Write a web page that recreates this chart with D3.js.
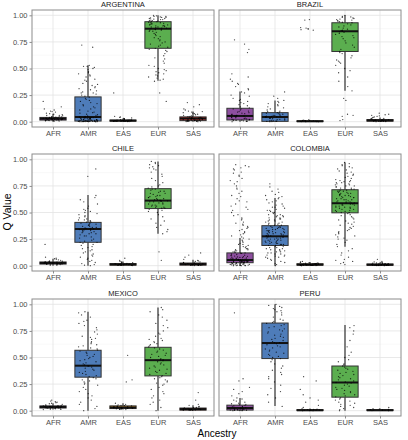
<!DOCTYPE html>
<html><head><meta charset="utf-8">
<script src="https://cdn.jsdelivr.net/npm/d3@7"></script>
<style>body{margin:0;background:#fff}svg{display:block;font-family:"Liberation Sans",Arial,sans-serif}</style>
</head><body><svg id="c" width="408" height="440"></svg>
<script>
const ancestries = ["AFR","AMR","EAS","EUR","SAS"];
const countries = ["ARGENTINA","BRAZIL","CHILE","COLOMBIA","MEXICO","PERU"];
const yTicks = [0, 0.25, 0.5, 0.75, 1.0];
const yTickLabels = ["0.00","0.25","0.50","0.75","1.00"];
const colors = ["#8E4FA0","#4E7CB9","#E69F2F","#5BAE4F","#C83A33"];

// box stats per ancestry: [lower whisker, q1, median, q3, upper whisker]
const argentinaBox = [[0,0.015,0.028,0.04,0.075],[0,0.006,0.044,0.233,0.53],[0,0.005,0.01,0.015,0.03],[0.385,0.69,0.874,0.94,1.0],[0,0.01,0.03,0.045,0.095]];
const brazilBox = [[0,0.016,0.054,0.126,0.284],[0,0.003,0.044,0.085,0.2],[0,0.001,0.004,0.008,0.015],[0.29,0.66,0.85,0.93,1.0],[0,0.005,0.012,0.02,0.04]];
const chileBox = [[0,0.015,0.025,0.035,0.065],[0,0.22,0.345,0.407,0.665],[0,0.005,0.012,0.02,0.04],[0.3,0.537,0.612,0.724,0.98],[0,0.005,0.015,0.025,0.055]];
const colombiaBox = [[0,0.028,0.053,0.12,0.26],[0,0.19,0.276,0.376,0.637],[0,0.005,0.01,0.018,0.035],[0.177,0.497,0.587,0.714,0.97],[0,0.004,0.009,0.016,0.03]];
const mexicoBox = [[0.01,0.025,0.035,0.045,0.07],[0,0.315,0.423,0.568,0.93],[0.01,0.02,0.03,0.045,0.07],[0,0.327,0.475,0.596,0.97],[0,0.005,0.015,0.025,0.05]];
const peruBox = [[0,0.006,0.025,0.052,0.12],[0.043,0.49,0.636,0.824,1.0],[0,0.001,0.004,0.01,0.02],[0,0.127,0.265,0.42,0.805],[0,0.001,0.004,0.01,0.02]];

// individual Q values per ancestry
const argentinaPoints = [
 [0.19,0.14,0.12,0.11,0.1,0.095,0.09,0.08,0.075,0.07,0.065,0.06,0.058,0.055,0.05,0.048,0.046,0.044,0.042,0.04,0.039,0.037,0.036,0.035,0.034,0.033,0.032,0.031,0.03,0.03,0.029,0.028,0.028,0.027,0.026,0.025,0.024,0.023,0.022,0.021,0.02,0.019,0.018,0.017,0.016,0.015,0.014,0.013,0.012,0.011,0.01,0.008,0.006,0.004],
 [0.72,0.7,0.53,0.52,0.52,0.51,0.5,0.49,0.47,0.46,0.45,0.44,0.43,0.42,0.4,0.39,0.38,0.36,0.35,0.34,0.33,0.32,0.31,0.3,0.29,0.28,0.27,0.27,0.26,0.25,0.24,0.23,0.22,0.21,0.2,0.19,0.18,0.17,0.16,0.15,0.14,0.13,0.12,0.11,0.1,0.09,0.085,0.08,0.07,0.065,0.06,0.055,0.05,0.047,0.044,0.04,0.037,0.033,0.03,0.027,0.024,0.02,0.018,0.016,0.014,0.012,0.01,0.009,0.008,0.007,0.006,0.005,0.004,0.004,0.003,0.003,0.002,0.002,0.001,0.001,0,0,0.043,0.041,0.039,0.036,0.034,0.031,0.029,0.026,0.023,0.021,0.019,0.017,0.015,0.013,0.011,0.008,0.006,0.005,0.003,0.002,0.001,0,0,0],
 [0.27,0.05,0.045,0.04,0.035,0.03,0.028,0.025,0.022,0.02,0.019,0.018,0.016,0.015,0.014,0.013,0.012,0.011,0.01,0.01,0.009,0.009,0.008,0.008,0.007,0.007,0.006,0.006,0.005,0.005,0.004,0.004,0.003,0.003,0.002,0.002,0.001,0.001],
 [1.0,0.995,0.99,0.99,0.985,0.98,0.98,0.975,0.97,0.97,0.965,0.96,0.96,0.955,0.95,0.95,0.945,0.94,0.94,0.935,0.93,0.93,0.925,0.92,0.92,0.915,0.91,0.91,0.905,0.9,0.9,0.895,0.89,0.89,0.885,0.88,0.88,0.875,0.87,0.87,0.865,0.86,0.86,0.85,0.85,0.84,0.83,0.82,0.81,0.8,0.79,0.78,0.77,0.76,0.75,0.74,0.73,0.72,0.71,0.7,0.69,0.68,0.67,0.66,0.64,0.62,0.6,0.59,0.57,0.55,0.53,0.52,0.5,0.49,0.48,0.47,0.46,0.45,0.44,0.43,0.42,0.41,0.4,0.39,0.38,0.27,0.19],
 [0.18,0.16,0.14,0.12,0.11,0.1,0.095,0.09,0.085,0.08,0.075,0.07,0.065,0.06,0.055,0.05,0.048,0.045,0.043,0.04,0.038,0.036,0.034,0.032,0.03,0.03,0.028,0.027,0.026,0.025,0.024,0.022,0.02,0.019,0.018,0.016,0.015,0.014,0.013,0.012,0.011,0.01,0.009,0.008,0.007,0.006,0.005,0.004,0.003,0.002,0.001,0]
];
const brazilPoints = [
 [0.77,0.73,0.68,0.65,0.45,0.42,0.4,0.38,0.36,0.35,0.33,0.31,0.3,0.28,0.27,0.25,0.24,0.22,0.21,0.2,0.19,0.18,0.17,0.16,0.15,0.14,0.13,0.12,0.12,0.11,0.1,0.095,0.09,0.085,0.08,0.075,0.07,0.065,0.06,0.058,0.055,0.052,0.05,0.047,0.044,0.04,0.037,0.034,0.03,0.027,0.024,0.021,0.018,0.016,0.014,0.012,0.01,0.008,0.006,0.004,0.002,0],
 [0.28,0.24,0.22,0.2,0.19,0.18,0.17,0.16,0.15,0.14,0.13,0.12,0.11,0.1,0.095,0.09,0.085,0.08,0.075,0.07,0.065,0.06,0.058,0.055,0.052,0.05,0.047,0.045,0.043,0.04,0.037,0.034,0.031,0.028,0.025,0.022,0.019,0.016,0.013,0.01,0.008,0.006,0.004,0.002,0.001,0],
 [0.96,0.955,0.885,0.88,0.875,0.87,0.865,0.86,0.02,0.015,0.012,0.01,0.009,0.008,0.007,0.006,0.005,0.004,0.003,0.003,0.002,0.002,0.001,0.001,0,0],
 [1.0,0.99,0.985,0.98,0.975,0.97,0.965,0.96,0.955,0.95,0.945,0.94,0.935,0.93,0.92,0.91,0.9,0.89,0.88,0.87,0.86,0.855,0.85,0.845,0.84,0.83,0.82,0.81,0.8,0.79,0.78,0.76,0.74,0.72,0.7,0.68,0.66,0.65,0.64,0.62,0.6,0.58,0.57,0.56,0.55,0.53,0.5,0.48,0.46,0.42,0.38,0.33,0.29,0.22,0.2,0.07,0.06,0.05,0.02,0.01],
 [0.08,0.07,0.065,0.06,0.055,0.05,0.045,0.04,0.035,0.03,0.028,0.025,0.022,0.02,0.018,0.016,0.015,0.014,0.013,0.012,0.011,0.01,0.009,0.008,0.007,0.006,0.005,0.004,0.003,0.002,0.001,0]
];
const chilePoints = [
 [0.2,0.08,0.07,0.065,0.06,0.055,0.05,0.045,0.042,0.04,0.038,0.036,0.034,0.032,0.03,0.029,0.028,0.027,0.026,0.025,0.024,0.023,0.022,0.021,0.02,0.019,0.018,0.017,0.016,0.015,0.014,0.012,0.01,0.008,0.006,0.004],
 [0.91,0.84,0.66,0.64,0.62,0.6,0.58,0.56,0.54,0.53,0.52,0.51,0.5,0.49,0.48,0.47,0.46,0.45,0.44,0.43,0.43,0.42,0.42,0.41,0.41,0.4,0.4,0.39,0.39,0.38,0.38,0.37,0.37,0.36,0.36,0.355,0.35,0.35,0.345,0.34,0.34,0.335,0.33,0.33,0.32,0.32,0.31,0.31,0.3,0.3,0.29,0.28,0.28,0.27,0.26,0.25,0.24,0.23,0.22,0.22,0.21,0.2,0.19,0.18,0.17,0.16,0.15,0.14,0.13,0.12,0.11,0.1,0.09,0.08,0.07,0.06,0.05,0.04,0.03,0.02,0.01,0.005,0],
 [0.07,0.05,0.04,0.035,0.03,0.028,0.025,0.022,0.02,0.018,0.016,0.015,0.014,0.013,0.012,0.011,0.01,0.009,0.008,0.007,0.006,0.005,0.004,0.003,0.002,0.001],
 [0.98,0.97,0.96,0.95,0.94,0.93,0.92,0.91,0.9,0.88,0.86,0.84,0.82,0.8,0.78,0.76,0.75,0.74,0.73,0.72,0.72,0.71,0.7,0.7,0.69,0.68,0.68,0.67,0.66,0.66,0.65,0.65,0.64,0.64,0.63,0.63,0.62,0.62,0.615,0.61,0.61,0.605,0.6,0.6,0.59,0.59,0.58,0.58,0.57,0.57,0.56,0.56,0.55,0.55,0.54,0.54,0.53,0.52,0.51,0.5,0.48,0.46,0.44,0.42,0.4,0.38,0.36,0.34,0.32,0.3,0.13,0.05],
 [0.12,0.1,0.08,0.06,0.05,0.045,0.04,0.035,0.03,0.028,0.025,0.022,0.02,0.018,0.016,0.015,0.014,0.013,0.012,0.011,0.01,0.009,0.008,0.007,0.006,0.005,0.004,0.003,0.002,0.001]
];
const colombiaPoints = [
 [0.95,0.94,0.93,0.92,0.91,0.9,0.88,0.87,0.85,0.84,0.82,0.8,0.79,0.77,0.75,0.73,0.72,0.7,0.68,0.66,0.65,0.63,0.61,0.6,0.58,0.56,0.55,0.53,0.52,0.5,0.48,0.47,0.45,0.44,0.43,0.41,0.4,0.39,0.38,0.37,0.36,0.35,0.34,0.33,0.32,0.31,0.3,0.29,0.28,0.27,
  0.26,0.25,0.24,0.23,0.22,0.21,0.2,0.2,0.19,0.18,0.18,0.17,0.16,0.16,0.15,0.15,0.14,0.14,0.13,0.13,0.125,0.12,
  0.118,0.115,0.11,0.105,0.1,0.098,0.095,0.09,0.088,0.085,0.082,0.08,0.078,0.075,0.072,0.07,0.068,0.066,0.064,0.062,0.06,0.058,0.057,0.056,0.055,0.054,0.053,0.052,0.051,0.05,0.049,0.048,0.047,0.046,0.045,0.044,0.043,0.042,0.041,0.04,0.039,0.038,0.037,0.036,0.035,0.034,0.033,0.032,0.031,0.03,0.029,0.028,
  0.027,0.025,0.023,0.021,0.02,0.018,0.016,0.015,0.013,0.012,0.01,0.009,0.008,0.006,0.005,0.004,0.003,0.002,0.001,0,0,0],
 [0.77,0.74,0.72,0.7,0.69,0.67,0.66,0.65,
  0.64,0.63,0.62,0.61,0.6,0.59,0.58,0.57,0.56,0.55,0.55,0.54,0.53,0.52,0.52,0.51,0.5,0.5,0.49,0.48,0.48,0.47,0.47,0.46,0.46,0.45,0.45,0.44,0.44,0.43,0.43,0.42,0.42,0.41,0.41,0.4,0.4,0.39,0.39,0.38,0.38,
  0.37,0.37,0.36,0.36,0.36,0.35,0.35,0.35,0.34,0.34,0.34,0.33,0.33,0.33,0.32,0.32,0.32,0.31,0.31,0.31,0.3,0.3,0.3,0.29,0.29,0.29,0.28,0.28,0.28,0.28,0.27,0.27,0.27,0.26,0.26,0.26,0.25,0.25,0.25,0.24,0.24,0.24,0.23,0.23,0.23,0.22,0.22,0.22,0.21,0.21,0.21,0.2,0.2,0.2,0.19,0.19,
  0.18,0.18,0.17,0.17,0.16,0.16,0.15,0.15,0.14,0.14,0.13,0.13,0.12,0.12,0.11,0.11,0.1,0.1,0.09,0.09,0.08,0.08,0.07,0.06,0.05,0.04,0.03,0.02,0.01,0],
 [0.04,0.035,0.03,0.028,0.025,0.024,0.022,0.021,0.02,0.019,0.018,0.017,0.016,0.015,0.015,0.014,0.013,0.012,0.012,0.011,0.01,0.01,0.009,0.009,0.008,0.008,0.007,0.007,0.006,0.006,0.005,0.005,0.004,0.004,0.003,0.003,0.002,0.002,0.001,0.001,0],
 [0.97,0.96,0.95,0.94,0.93,0.92,0.91,0.9,0.89,0.88,0.87,0.86,0.85,0.84,0.83,0.82,0.81,0.8,0.8,0.79,0.79,0.78,0.78,0.77,0.77,0.76,0.76,0.75,0.75,0.74,0.74,0.73,0.73,0.72,0.72,
  0.71,0.71,0.7,0.7,0.7,0.69,0.69,0.68,0.68,0.68,0.67,0.67,0.66,0.66,0.66,0.65,0.65,0.64,0.64,0.64,0.63,0.63,0.62,0.62,0.62,0.61,0.61,0.6,0.6,0.6,0.59,0.59,0.59,0.58,0.58,0.58,0.57,0.57,0.57,0.56,0.56,0.55,0.55,0.55,0.54,0.54,0.53,0.53,0.52,0.52,0.51,0.51,0.5,0.5,
  0.49,0.48,0.47,0.46,0.45,0.44,0.43,0.42,0.41,0.4,0.39,0.38,0.37,0.36,0.35,0.34,0.33,0.32,0.31,0.3,0.29,0.28,0.27,0.26,0.25,0.24,0.22,0.2,0.18,0.16,0.14,0.12,0.1,0.08,0.06,0.05,0.04,0.03,0.02,0.01],
 [0.06,0.04,0.035,0.03,0.028,0.025,0.023,0.021,0.02,0.018,0.017,0.016,0.015,0.014,0.013,0.012,0.011,0.01,0.01,0.009,0.009,0.008,0.008,0.007,0.007,0.006,0.006,0.005,0.005,0.004,0.004,0.003,0.003,0.002,0.002,0.001,0.001,0]
];
const mexicoPoints = [
 [0.1,0.09,0.085,0.08,0.075,0.07,0.065,0.06,0.055,0.05,0.048,0.046,0.044,0.042,0.04,0.039,0.038,0.037,0.036,0.035,0.034,0.033,0.032,0.031,0.03,0.029,0.028,0.027,0.026,0.025,0.023,0.021,0.019,0.017,0.015,0.012,0.01],
 [0.93,0.92,0.9,0.88,0.85,0.84,0.82,0.8,0.78,0.76,0.74,0.72,0.7,0.69,0.68,0.67,0.65,0.64,0.63,0.62,0.61,0.6,0.59,0.58,0.57,0.56,0.55,0.54,0.53,0.52,0.51,0.5,0.49,0.48,0.47,0.46,0.45,0.44,0.43,0.42,0.42,0.41,0.4,0.39,0.38,0.37,0.36,0.35,0.34,0.33,0.32,0.31,0.3,0.29,0.28,0.27,0.26,0.25,0.24,0.22,0.2,0.18,0.16,0.14,0.12,0.1,0.08,0.06,0.04,0.02,0],
 [0.52,0.29,0.27,0.07,0.06,0.055,0.05,0.048,0.045,0.043,0.04,0.038,0.036,0.034,0.032,0.03,0.029,0.028,0.027,0.026,0.025,0.024,0.023,0.022,0.021,0.02,0.018,0.016,0.014,0.012,0.01],
 [0.97,0.95,0.93,0.9,0.88,0.85,0.82,0.8,0.78,0.75,0.73,0.72,0.7,0.68,0.67,0.66,0.65,0.64,0.63,0.62,0.61,0.6,0.59,0.58,0.57,0.56,0.55,0.54,0.53,0.52,0.51,0.5,0.49,0.48,0.48,0.47,0.46,0.45,0.44,0.43,0.42,0.41,0.4,0.39,0.38,0.37,0.36,0.35,0.34,0.33,0.32,0.31,0.3,0.29,0.28,0.27,0.26,0.25,0.24,0.22,0.2,0.18,0.16,0.14,0.12,0.1,0.08,0.06,0.03,0],
 [0.17,0.1,0.06,0.05,0.04,0.035,0.03,0.028,0.025,0.022,0.02,0.018,0.016,0.015,0.014,0.013,0.012,0.011,0.01,0.009,0.008,0.007,0.006,0.005,0.004,0.003]
];
const peruPoints = [
 [0.92,0.3,0.28,0.22,0.2,0.18,0.16,0.14,0.12,0.11,0.1,0.09,0.08,0.07,0.065,0.06,0.055,0.05,0.045,0.04,0.035,0.03,0.028,0.025,0.022,0.02,0.018,0.016,0.014,0.012,0.01,0.008,0.006,0.005,0.004,0.003,0.002,0.001,0,0],
 [1.0,0.99,0.98,0.97,0.96,0.95,0.94,0.93,0.92,0.9,0.88,0.86,0.85,0.84,0.83,0.82,0.81,0.8,0.79,0.78,0.77,0.76,0.75,0.74,0.73,0.72,0.71,0.7,0.69,0.68,0.67,0.66,0.65,0.64,0.64,0.63,0.62,0.61,0.6,0.59,0.58,0.57,0.56,0.55,0.54,0.53,0.52,0.51,0.5,0.49,0.48,0.46,0.44,0.42,0.4,0.38,0.36,0.34,0.32,0.3,0.27,0.24,0.21,0.18,0.15,0.12,0.08,0.04],
 [0.32,0.28,0.2,0.15,0.12,0.1,0.08,0.05,0.03,0.02,0.015,0.012,0.01,0.008,0.006,0.005,0.004,0.003,0.002,0.001,0,0],
 [0.8,0.78,0.75,0.72,0.66,0.6,0.55,0.52,0.5,0.48,0.46,0.44,0.43,0.42,0.41,0.4,0.39,0.38,0.37,0.36,0.35,0.34,0.33,0.32,0.31,0.3,0.29,0.28,0.27,0.265,0.26,0.25,0.24,0.23,0.22,0.21,0.2,0.19,0.18,0.17,0.16,0.15,0.14,0.13,0.12,0.11,0.1,0.09,0.08,0.07,0.06,0.05,0.04,0.03,0.02,0.01,0],
 [0.03,0.02,0.015,0.012,0.01,0.008,0.006,0.005,0.004,0.003,0.002,0.001,0]
];

const boxes = [argentinaBox, brazilBox, chileBox, colombiaBox, mexicoBox, peruBox];
const points = [argentinaPoints, brazilPoints, chilePoints, colombiaPoints, mexicoPoints, peruPoints];

const svg = d3.select("#c");
const colX = [32, 219], panelW = 182;
const rowY = [10, 154, 299], panelH = 117;
const minorTicks = [0.125, 0.375, 0.625, 0.875];

// deterministic horizontal spread (layout only, not data)
function spread(i, ai, ci) {
  const s = Math.sin(i * 12.9898 + ai * 78.233 + ci * 37.719) * 43758.5453;
  return s - Math.floor(s) - 0.5;
}

countries.forEach((country, ci) => {
  const col = ci % 2, row = Math.floor(ci / 2);
  const x0 = colX[col], y0 = rowY[row];
  const x = d3.scalePoint().domain(ancestries).range([x0, x0 + panelW]).padding(0.6);
  const y = d3.scaleLinear().domain([-0.05, 1.05]).range([y0 + panelH, y0]);
  const step = x.step();
  const g = svg.append("g");

  g.selectAll(".mn").data(minorTicks).join("line")
    .attr("x1", x0).attr("x2", x0 + panelW).attr("y1", d => y(d)).attr("y2", d => y(d))
    .attr("stroke", "#f2f2f2").attr("stroke-width", 0.5);
  g.selectAll(".mj").data(yTicks).join("line")
    .attr("x1", x0).attr("x2", x0 + panelW).attr("y1", d => y(d)).attr("y2", d => y(d))
    .attr("stroke", "#e3e3e3").attr("stroke-width", 0.8);
  g.selectAll(".vx").data(ancestries).join("line")
    .attr("x1", d => x(d)).attr("x2", d => x(d)).attr("y1", y0).attr("y2", y0 + panelH)
    .attr("stroke", "#e3e3e3").attr("stroke-width", 0.8);

  const bw = step * 0.75;
  ancestries.forEach((a, ai) => {
    const [lo, q1, med, q3, hi] = boxes[ci][ai];
    const cx = x(a);
    g.append("line").attr("x1", cx).attr("x2", cx).attr("y1", y(hi)).attr("y2", y(q3))
      .attr("stroke", "#333").attr("stroke-width", 1.2);
    g.append("line").attr("x1", cx).attr("x2", cx).attr("y1", y(q1)).attr("y2", y(lo))
      .attr("stroke", "#333").attr("stroke-width", 1.2);
    g.append("rect").attr("x", cx - bw / 2).attr("width", bw)
      .attr("y", y(q3)).attr("height", Math.max(0.5, y(q1) - y(q3)))
      .attr("fill", colors[ai]).attr("stroke", "#333").attr("stroke-width", 1);
    g.append("line").attr("x1", cx - bw / 2).attr("x2", cx + bw / 2).attr("y1", y(med)).attr("y2", y(med))
      .attr("stroke", "#111").attr("stroke-width", 2);
  });

  ancestries.forEach((a, ai) => {
    const vals = points[ci][ai];
    g.selectAll(null).data(vals).join("circle")
      .attr("cx", (d, i) => x(a) + spread(i, ai, ci) * step * 0.56)
      .attr("cy", d => y(d))
      .attr("r", 0.65).attr("fill", "#000").attr("fill-opacity", 0.75);
  });

  g.append("rect").attr("x", x0).attr("y", y0).attr("width", panelW).attr("height", panelH)
    .attr("fill", "none").attr("stroke", "#8c8c8c").attr("stroke-width", 1);

  g.append("text").attr("x", x0 + panelW / 2).attr("y", y0 - 3.5).attr("text-anchor", "middle")
    .attr("font-size", 7.5).attr("fill", "#1a1a1a").text(country);

  const xa = g.append("g").attr("transform", `translate(0,${y0 + panelH})`)
    .call(d3.axisBottom(x).tickSize(2.5).tickPadding(1.5));
  xa.select(".domain").remove();
  xa.selectAll("line").attr("stroke", "#8c8c8c");
  xa.selectAll("text").attr("font-size", 7.5).attr("fill", "#4d4d4d").attr("font-family", "Liberation Sans, Arial, sans-serif");

  if (col === 0) {
    const ya = g.append("g").attr("transform", `translate(${x0},0)`)
      .call(d3.axisLeft(y).tickValues(yTicks).tickFormat((d, i) => yTickLabels[i]).tickSize(2.5).tickPadding(2));
    ya.select(".domain").remove();
    ya.selectAll("line").attr("stroke", "#8c8c8c");
    ya.selectAll("text").attr("font-size", 7.5).attr("fill", "#4d4d4d").attr("font-family", "Liberation Sans, Arial, sans-serif");
  }
});

svg.append("text").attr("x", 217).attr("y", 437).attr("text-anchor", "middle")
  .attr("font-size", 10).attr("fill", "#000").text("Ancestry");
svg.append("text").attr("transform", "translate(11,212) rotate(-90)").attr("text-anchor", "middle")
  .attr("font-size", 10.5).attr("fill", "#000").text("Q Value");
</script></body></html>
